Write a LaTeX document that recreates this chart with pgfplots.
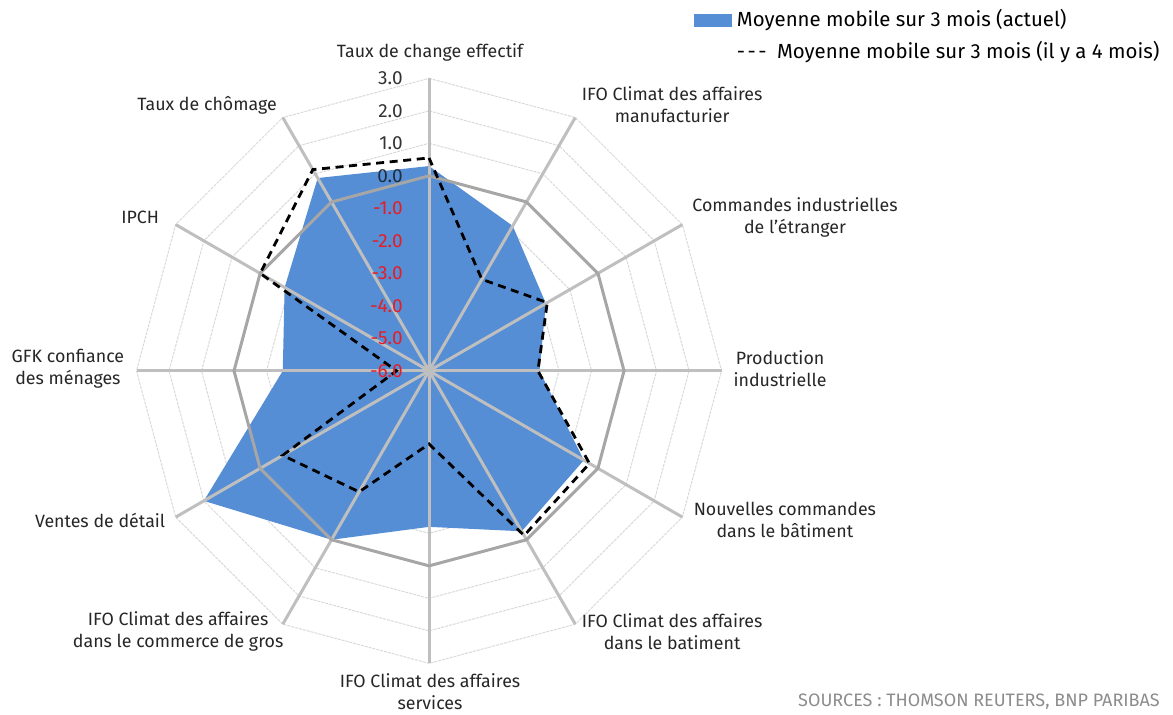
\documentclass[border=0pt]{standalone}
\usepackage{fontspec}
\setmainfont{Fira Sans}
\usepackage{pgfplots}
\usepackage{pgfplotstable}
\pgfplotsset{compat=1.18}
\definecolor{areablue}{RGB}{85,142,213}
\definecolor{spokegray}{RGB}{191,191,191}
\definecolor{ringgray}{RGB}{166,166,166}
\definecolor{thingray}{RGB}{217,217,217}
\definecolor{tickred}{RGB}{232,28,36}
\definecolor{srcgray}{RGB}{140,140,140}

\pgfplotstableread{
angle actuel ancien
90 0.3 0.55
60 -0.85 -2.75
30 -1.85 -1.8
0 -2.6 -2.65
-30 -0.5 -0.3
-60 -0.3 -0.15
-90 -1.2 -3.75
-120 0.0 -1.7
-150 2.0 -0.8
180 -1.5 -5.0
150 -0.87 0.0
120 0.85 1.15
90 0.3 0.55
}\radardata

\begin{document}
\begin{tikzpicture}
\begin{axis}[
  x=16.25pt, y=16.25pt,
  xmin=-13.2, xmax=22.89, ymin=-10.56, ymax=11.41,
  hide axis, clip=false, enlargelimits=false,
]
\path (rel axis cs:0,0) rectangle (rel axis cs:1,1);
% thin rings
\pgfplotsinvokeforeach{1,2,3,4,5,7,8,9}{
  \addplot[thingray, line width=0.5pt, dash pattern=on 1.5pt off 0.5pt, data cs=polar, forget plot]
    coordinates {(90,#1)(60,#1)(30,#1)(0,#1)(-30,#1)(-60,#1)(-90,#1)(-120,#1)(-150,#1)(180,#1)(150,#1)(120,#1)(90,#1)};
}
% actual area
\addplot[fill=areablue, draw=none, data cs=polar] table[x=angle, y expr=\thisrow{actuel}+6] {\radardata};
% spokes
\pgfplotsinvokeforeach{90,60,30,0,-30,-60,-90,-120,-150,180,150,120}{
  \addplot[spokegray, line width=1.5pt, data cs=polar, forget plot] coordinates {(#1,0)(#1,9)};
}
% zero ring
\addplot[ringgray, line width=1.5pt, data cs=polar, forget plot]
  coordinates {(90,6)(60,6)(30,6)(0,6)(-30,6)(-60,6)(-90,6)(-120,6)(-150,6)(180,6)(150,6)(120,6)(90,6)};
% 4 months ago
\addplot[black, line width=1.4pt, dash pattern=on 4pt off 2.8pt, data cs=polar] table[x=angle, y expr=\thisrow{ancien}+6] {\radardata};

% radial tick labels
\begin{scope}[every node/.style={anchor=east, inner sep=0pt, font=\fontsize{9.5}{10}\selectfont}]
\node[text=black!80] at (axis cs:-0.8,9) {3.0};
\node[text=black!80] at (axis cs:-0.8,8) {2.0};
\node[text=black!80] at (axis cs:-0.8,7) {1.0};
\node[text={rgb,255:red,31;green,45;blue,61}] at (axis cs:-0.8,6) {0.0};
\node[text=tickred] at (axis cs:-0.8,5) {-1.0};
\node[text=tickred] at (axis cs:-0.8,4) {-2.0};
\node[text=tickred] at (axis cs:-0.8,3) {-3.0};
\node[text=tickred] at (axis cs:-0.8,2) {-4.0};
\node[text=tickred] at (axis cs:-0.8,1) {-5.0};
\node[text=tickred] at (axis cs:-0.8,0) {-6.0};
\end{scope}

% category labels
\begin{scope}[every node/.style={align=center, inner sep=0pt, text=black!85, font=\fontsize{8.9}{11}\selectfont}]
\node at (axis cs:0.03,9.81) {Taux de change effectif};
\node at (axis cs:7.48,8.18) {IFO Climat des affaires\\manufacturier};
\node at (axis cs:11.26,4.73) {Commandes industrielles\\de l'étranger};
\node at (axis cs:10.8,0.08) {Production\\industrielle};
\node at (axis cs:10.95,-4.59) {Nouvelles commandes\\dans le bâtiment};
\node at (axis cs:7.48,-8.01) {IFO Climat des affaires\\dans le batiment};
\node at (axis cs:0.03,-9.88) {IFO Climat des affaires\\services};
\node at (axis cs:-7.72,-8.01) {IFO Climat des affaires\\dans le commerce de gros};
\node at (axis cs:-10.12,-4.59) {Ventes de détail};
\node at (axis cs:-11.11,0.08) {GFK confiance\\des ménages};
\node at (axis cs:-8.89,4.73) {IPCH};
\node at (axis cs:-6.83,8.18) {Taux de chômage};
\end{scope}

% legend
\fill[areablue] (axis cs:{(694-429)/32.5},{(370.7-14)/32.5}) rectangle (axis cs:{(732-429)/32.5},{(370.7-27)/32.5});
\node[anchor=west, inner sep=0pt, font=\fontsize{10.2}{12}\selectfont] at (axis cs:{(736.5-429)/32.5},{(370.7-20)/32.5}) {Moyenne mobile sur 3 mois (actuel)};
\node[anchor=west, inner sep=0pt, font=\fontsize{10.2}{12}\selectfont] at (axis cs:{(736.5-429)/32.5},{(370.7-52)/32.5}) {-\hspace{0.12em}-\hspace{0.12em}-\hspace{0.25em} Moyenne mobile sur 3 mois (il y a 4 mois)};
% source
\node[anchor=east, inner sep=0pt, text=srcgray, font=\fontsize{9.0}{10}\selectfont] at (axis cs:{(1160-429)/32.5},{(370.7-702)/32.5}) {SOURCES : THOMSON REUTERS, BNP PARIBAS};
\end{axis}
\end{tikzpicture}
\end{document}
